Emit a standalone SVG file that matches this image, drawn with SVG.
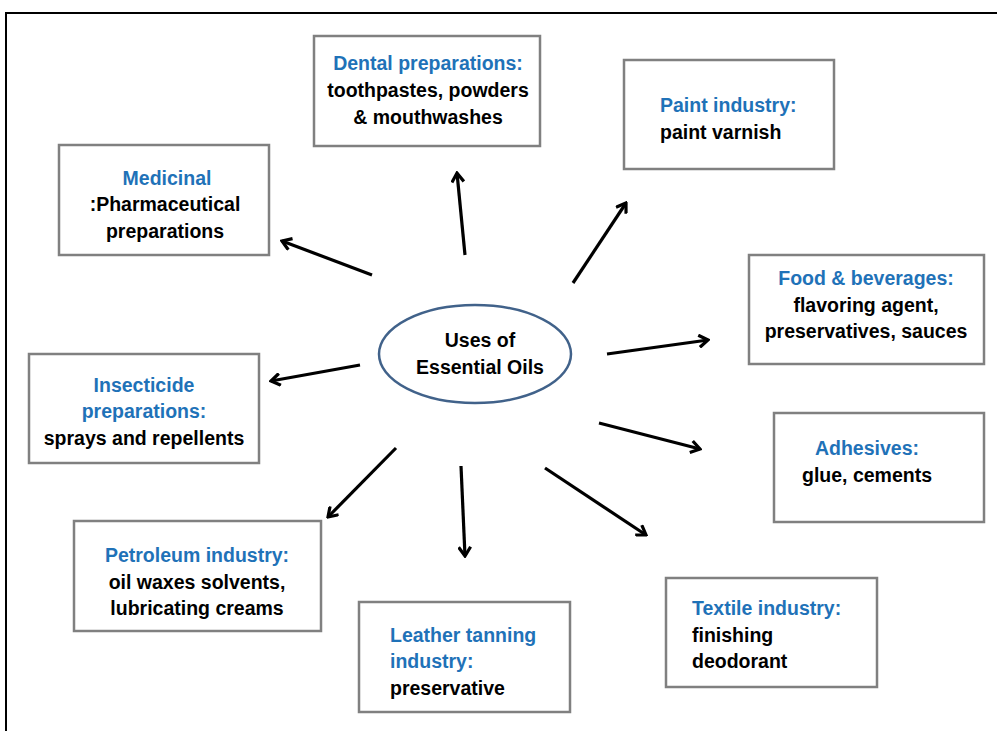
<svg xmlns="http://www.w3.org/2000/svg" width="997" height="731" viewBox="0 0 997 731">
<style>
.box{fill:#fff;stroke:#808080;stroke-width:2.5}
.t{font-family:"Liberation Sans",Arial,sans-serif;font-weight:bold;font-size:19.5px;fill:#000}
.b{fill:#1f72b8}
.c{text-anchor:middle}
.arr{stroke:#000;stroke-width:3.2;fill:none;marker-end:url(#ah)}
</style>
<defs>
<marker id="ah" markerUnits="userSpaceOnUse" viewBox="0 0 14 14" refX="12" refY="7" markerWidth="14" markerHeight="14" orient="auto">
<path d="M3,1 L12,7 L3,13" fill="none" stroke="#000" stroke-width="3.2" stroke-linejoin="miter"/>
</marker>
</defs>
<rect width="997" height="731" fill="#fff"/>
<path d="M6,740 V13 H1000" fill="none" stroke="#000" stroke-width="2"/>

<g id="connectors">
<line class="arr" x1="465" y1="255" x2="457" y2="173"/>
<line class="arr" x1="372" y1="275" x2="282" y2="241"/>
<line class="arr" x1="573" y1="283" x2="626" y2="203"/>
<line class="arr" x1="607" y1="354" x2="708" y2="340"/>
<line class="arr" x1="360" y1="365" x2="271" y2="381"/>
<line class="arr" x1="599" y1="423" x2="700" y2="449"/>
<line class="arr" x1="396" y1="448" x2="328" y2="517"/>
<line class="arr" x1="461" y1="466" x2="465" y2="556"/>
<line class="arr" x1="545" y1="468" x2="646" y2="535"/>
</g>

<g id="center">
<ellipse cx="475" cy="354" rx="96" ry="49" fill="#fff" stroke="#41628a" stroke-width="2.5"/>
<text class="t c" x="480" y="347">Uses of</text>
<text class="t c" x="480" y="374">Essential Oils</text>
</g>

<g id="dental">
<rect class="box" x="314" y="36" width="226" height="110"/>
<text class="t c b" x="428" y="70">Dental preparations:</text>
<text class="t c" x="428" y="97">toothpastes, powders</text>
<text class="t c" x="428" y="124">&amp; mouthwashes</text>
</g>

<g id="paint">
<rect class="box" x="624" y="60" width="210" height="109"/>
<text class="t b" x="660" y="112">Paint industry:</text>
<text class="t" x="660" y="139">paint varnish</text>
</g>

<g id="medicinal">
<rect class="box" x="59" y="145" width="210" height="110"/>
<text class="t c b" x="167" y="185">Medicinal</text>
<text class="t c" x="165" y="211">:Pharmaceutical</text>
<text class="t c" x="165" y="238">preparations</text>
</g>

<g id="food">
<rect class="box" x="749" y="255" width="235" height="109"/>
<text class="t c b" x="866" y="285">Food &amp; beverages:</text>
<text class="t c" x="866" y="312">flavoring agent,</text>
<text class="t c" x="866" y="338">preservatives, sauces</text>
</g>

<g id="insecticide">
<rect class="box" x="29" y="354" width="230" height="109"/>
<text class="t c b" x="144" y="392">Insecticide</text>
<text class="t c b" x="144" y="418">preparations:</text>
<text class="t c" x="144" y="445">sprays and repellents</text>
</g>

<g id="adhesives">
<rect class="box" x="774" y="413" width="210" height="109"/>
<text class="t c b" x="867" y="455">Adhesives:</text>
<text class="t c" x="867" y="482">glue, cements</text>
</g>

<g id="petroleum">
<rect class="box" x="74" y="521" width="247" height="110"/>
<text class="t c b" x="197" y="562">Petroleum industry:</text>
<text class="t c" x="197" y="589">oil waxes solvents,</text>
<text class="t c" x="197" y="615">lubricating creams</text>
</g>

<g id="textile">
<rect class="box" x="666" y="578" width="211" height="109"/>
<text class="t b" x="692" y="615">Textile industry:</text>
<text class="t" x="692" y="642">finishing</text>
<text class="t" x="692" y="668">deodorant</text>
</g>

<g id="leather">
<rect class="box" x="359" y="602" width="211" height="110"/>
<text class="t b" x="390" y="642">Leather tanning</text>
<text class="t b" x="390" y="668">industry:</text>
<text class="t" x="390" y="695">preservative</text>
</g>
</svg>
